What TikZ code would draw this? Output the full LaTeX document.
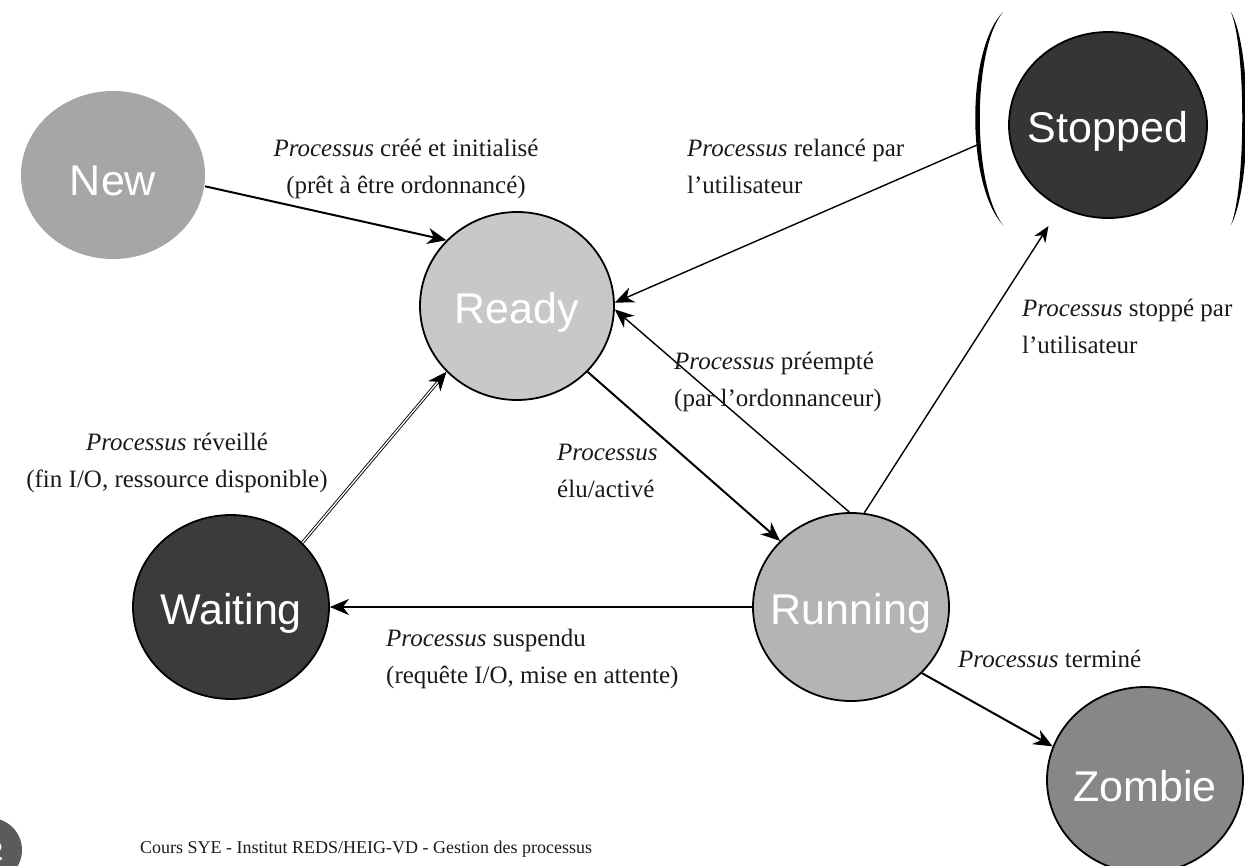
\documentclass[tikz,border=0pt]{standalone}
\usepackage{fontspec}
\setmainfont{Liberation Serif}
\setsansfont{Liberation Sans}
\usetikzlibrary{arrows.meta,shapes.geometric}

\definecolor{newgray}{HTML}{A6A6A6}
\definecolor{readygray}{HTML}{C8C8C8}
\definecolor{runninggray}{HTML}{B4B4B4}
\definecolor{waitinggray}{HTML}{3B3B3B}
\definecolor{stoppedgray}{HTML}{353535}
\definecolor{zombiegray}{HTML}{878787}
\definecolor{pagegray}{HTML}{5B5B5B}
\definecolor{labelink}{HTML}{1A1A1A}

% state names are set in a zero-width box (lowered a little, same box size)
% so the ellipse keeps its given size
\newcommand{\statename}[1]{\raisebox{-6pt}[\height][\depth]{\makebox[0pt][c]{#1}}}

\begin{document}
\begin{tikzpicture}[x=1pt,y=-1pt,
  state/.style={ellipse, inner sep=0pt, draw=black, line width=1.8pt,
    minimum width=196pt, minimum height=188pt,
    font=\sffamily\fontsize{43}{50}\selectfont, text=white},
  lbl/.style={inner sep=0pt, text=labelink,
    font=\fontsize{25}{37}\selectfont},
  bigtip/.style={-{Stealth[length=19pt,width=16pt,inset=6pt]}},
  smalltip/.style={-{Stealth[length=16pt,width=13pt,inset=5pt]}},
  thick line/.style={line width=2pt},
  thin line/.style={line width=1.4pt},
]
\useasboundingbox (0,0) rectangle (1245,865);

% process states
\node[state, draw=none, fill=newgray, minimum width=184pt, minimum height=168pt] (new) at (113,175) {\statename{New}};
\node[state, fill=readygray, minimum width=194pt] (ready) at (517,306) {\statename{Ready}};
\node[state, fill=runninggray] (running) at (851,607) {\statename{Running}};
\node[state, fill=waitinggray, minimum height=184pt] (waiting) at (231,607) {\statename{Waiting}};
\node[state, fill=stoppedgray, minimum width=198pt, minimum height=186pt] (stopped) at (1108,125) {\statename{Stopped}};
\node[state, fill=zombiegray, minimum height=186pt] (zombie) at (1145,780) {\statename{Zombie}};

% parentheses around the stopped state
\fill (1003,12) .. controls (966,50) and (966,185) .. (1003,225)
      .. controls (972,185) and (972,50) .. (1003,12);
\fill (1231,12) .. controls (1252,50) and (1252,185) .. (1231,225)
      .. controls (1246,185) and (1246,50) .. (1231,12);
\coordinate (brk) at (977,145);

% transitions
\draw[thick line, bigtip] (new.-7) -- (ready.137);
\draw[thin line, bigtip] (brk) -- (ready.2);
\draw[thin line, bigtip] (running.91) -- (ready.-2);
\draw[thin line, smalltip, shorten >=22pt] (running.82) -- (stopped.240);
\draw[thick line, bigtip] (ready.-43) -- (running.137);
\draw[thick line, bigtip] (running.180) -- (waiting.0);
\draw[line width=0.9pt, double=white, double distance=1.3pt, bigtip] (waiting.42) -- (ready.223);
\draw[thick line, bigtip] (running.-43) -- (zombie.160);

% transition labels (anchored on the baseline of their last line)
\node[lbl, anchor=base, align=center] (l1) at (406,193) {\textit{Processus} créé et initialisé\\(prêt à être ordonnancé)};
\node[lbl, anchor=base west, align=left] (l2) at (687,193) {\textit{Processus} relancé par\\l'utilisateur};
\node[lbl, anchor=base west, align=left] (l3) at (1022,353) {\textit{Processus} stoppé par\\l'utilisateur};
\node[lbl, anchor=base west, align=left] (l4) at (674,406) {\textit{Processus} préempté\\(par l'ordonnanceur)};
\node[lbl, anchor=base west, align=left] (l5) at (557,497) {\textit{Processus}\\élu/activé};
\node[lbl, anchor=base, align=center] (l6) at (177,487) {\textit{Processus} réveillé\\(fin I/O, ressource disponible)};
\node[lbl, anchor=base west, align=left] (l7) at (386,683) {\textit{Processus} suspendu\\(requête I/O, mise en attente)};
\node[lbl, anchor=base west] (l8) at (958,667) {\textit{Processus} terminé};

% footer
\node[circle, fill=pagegray, minimum size=64pt, inner sep=0pt] (page) at (-10,850) {};
\node[anchor=east, text=white, font=\sffamily\bfseries\fontsize{26}{30}\selectfont, inner sep=0pt] (pnum) at (3,851) {2};
\node[lbl, anchor=base west, font=\fontsize{18}{22}\selectfont] (foot) at (140,853) {Cours SYE - Institut REDS/HEIG-VD - Gestion des processus};
\end{tikzpicture}
\end{document}
